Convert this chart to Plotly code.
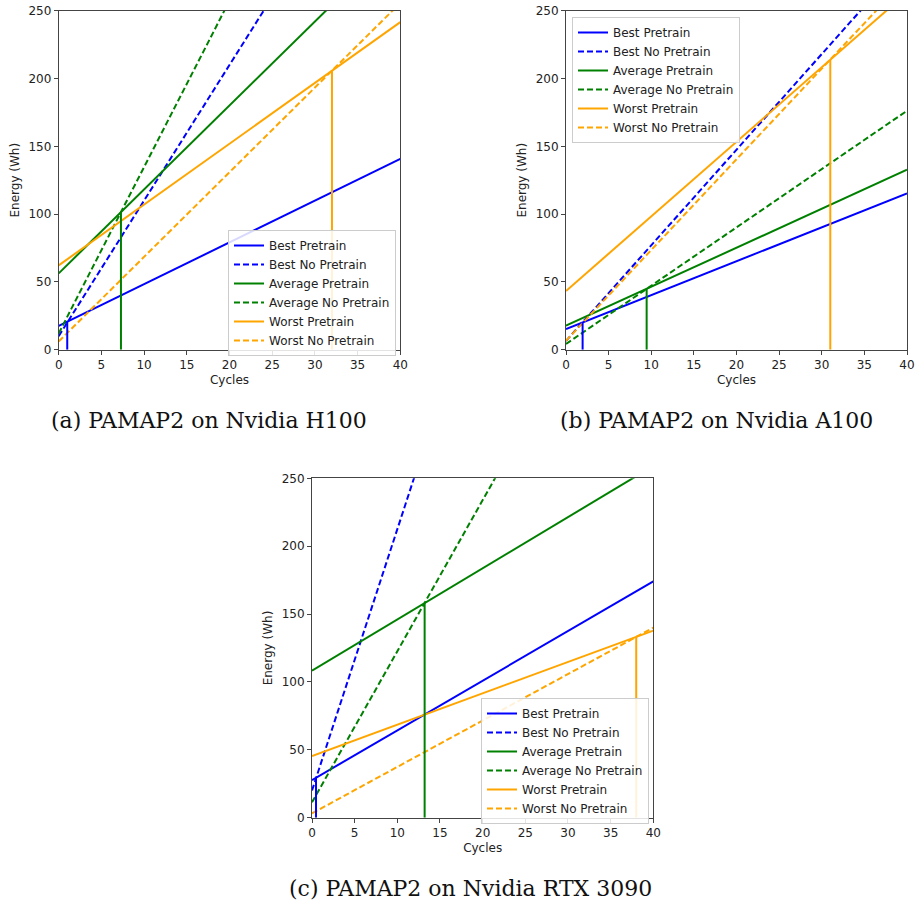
import plotly.graph_objects as go

# ---------------- data ----------------
series_names = ["Best Pretrain", "Best No Pretrain", "Average Pretrain",
                "Average No Pretrain", "Worst Pretrain", "Worst No Pretrain"]
series_colors = ["blue", "blue", "green", "green", "orange", "orange"]
series_dash = ["solid", "dash", "solid", "dash", "solid", "dash"]

cycles_ends = [0, 40]

# energy (Wh) at cycles 0 and 40 for each series, per panel
h100_energy = [[17.5, 140.8], [10.0, 410.0], [56.3, 303.9],
               [12.0, 502.8], [62.2, 241.6], [6.1, 255.7]]
a100_energy = [[15.2, 115.3], [6.5, 288.5], [17.7, 132.7],
               [4.2, 176.2], [43.3, 263.3], [6.6, 274.2]]
rtx_energy = [[27.7, 174.1], [20.0, 790.0], [108.3, 259.1],
              [11.3, 456.5], [45.4, 137.8], [3.2, 140.0]]

# break-even points (cycles, energy) for best / average / worst
h100_break_cycles = [1.0, 7.29, 32.0]
h100_break_energy = [20.6, 101.4, 205.7]
a100_break_cycles = [1.95, 9.46, 31.0]
a100_break_energy = [20.1, 44.9, 213.8]
rtx_break_cycles = [0.47, 13.2, 38.0]
rtx_break_energy = [29.4, 158.1, 133.2]
break_colors = ["blue", "green", "orange"]

captions = ["(a) PAMAP2 on Nvidia H100", "(b) PAMAP2 on Nvidia A100",
            "(c) PAMAP2 on Nvidia RTX 3090"]

# ---------------- figure ----------------
W, H = 915, 905
fig = go.Figure()

panels = [
    dict(energy=h100_energy, bc=h100_break_cycles, be=h100_break_energy,
         px=(58.7, 400.3), py=(10.7, 349.7), legend="legend",
         leg=(228, 230), cap=(209, 421)),
    dict(energy=a100_energy, bc=a100_break_cycles, be=a100_break_energy,
         px=(566, 907), py=(10.7, 349.7), legend="legend2",
         leg=(572, 17), cap=(716, 421)),
    dict(energy=rtx_energy, bc=rtx_break_cycles, be=rtx_break_energy,
         px=(312, 653.3), py=(478.3, 817.7), legend="legend3",
         leg=(481, 698), cap=(470, 888)),
]

font_main = dict(family="DejaVu Sans", size=12, color="#222")

def fx(v):
    return v / W

def fy(v):
    return 1 - v / H

for i, p in enumerate(panels):
    sfx = "" if i == 0 else str(i + 1)
    xa, ya = "x" + sfx, "y" + sfx
    for name, col, dash, e in zip(series_names, series_colors, series_dash, p["energy"]):
        fig.add_trace(go.Scatter(
            x=cycles_ends, y=e, mode="lines", name=name,
            line=dict(color=col, dash=dash if dash == "solid" else "6px,3px", width=2),
            xaxis=xa, yaxis=ya, legend=p["legend"], showlegend=True))
    for c, en, col in zip(p["bc"], p["be"], break_colors):
        fig.add_trace(go.Scatter(
            x=[c, c], y=[0, en], mode="lines",
            line=dict(color=col, width=2), xaxis=xa, yaxis=ya,
            showlegend=False, hoverinfo="skip"))

    x0, x1 = p["px"]
    y0, y1 = p["py"]
    axis_common = dict(showgrid=False, zeroline=False, showline=True,
                       linecolor="#444", linewidth=1, mirror=True,
                       ticks="outside", ticklen=4, tickcolor="#444",
                       tickfont=font_main, automargin=False)
    fig.layout["xaxis" + sfx] = dict(
        domain=[fx(x0), fx(x1)], anchor=ya, range=[0, 40], dtick=5,
        title=dict(text="Cycles", font=font_main, standoff=4), **axis_common)
    fig.layout["yaxis" + sfx] = dict(
        domain=[fy(y1), fy(y0)], anchor=xa, range=[0, 250], dtick=50,
        title=dict(text="Energy (Wh)", font=font_main, standoff=6), **axis_common)
    lx, ly = p["leg"]
    fig.layout[p["legend"]] = dict(
        x=fx(lx), y=fy(ly), xanchor="left", yanchor="top",
        bgcolor="rgba(255,255,255,0.85)", bordercolor="#ccc", borderwidth=1,
        font=dict(family="DejaVu Sans", size=12, color="#222"),
        tracegroupgap=0, itemwidth=30)
    cx, cy = p["cap"]
    fig.add_annotation(x=fx(cx), y=fy(cy), xref="paper", yref="paper",
                       text=captions[i], showarrow=False,
                       xanchor="center", yanchor="middle",
                       font=dict(family="DejaVu Serif", size=22, color="#111"))

fig.update_layout(width=W, height=H, margin=dict(l=0, r=0, t=0, b=0),
                  paper_bgcolor="white", plot_bgcolor="white")

fig.write_html("out.html",
               config={"displayModeBar": False},
               post_script="document.body.style.margin='0';"
                           "document.body.style.overflow='hidden';")
